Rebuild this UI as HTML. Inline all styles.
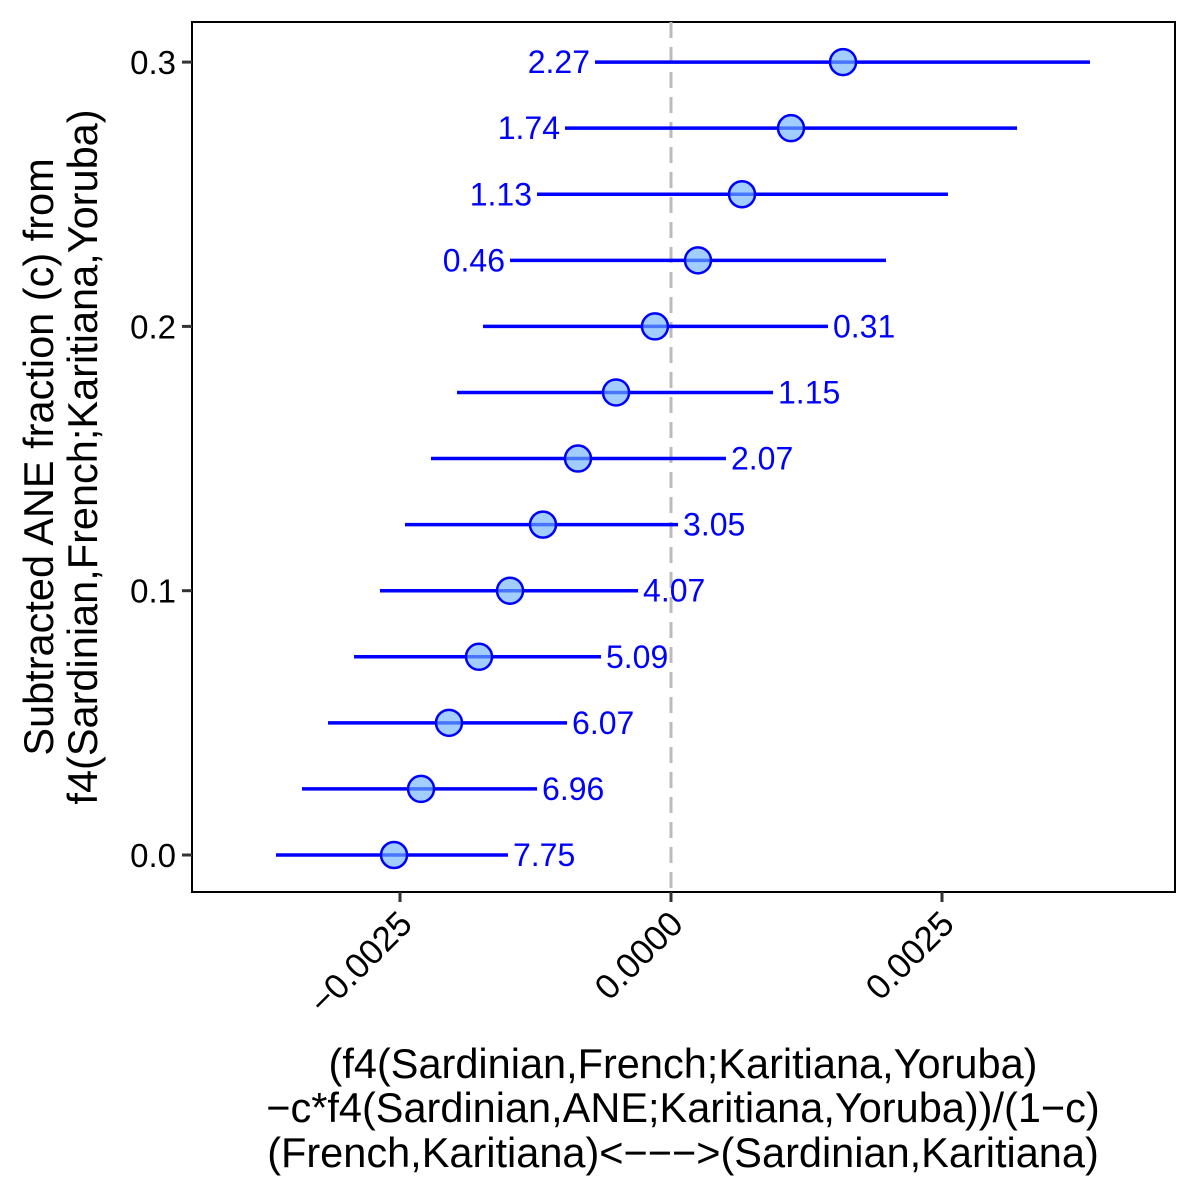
<!DOCTYPE html>
<html><head><meta charset="utf-8"><style>
html,body{margin:0;padding:0;background:#fff;}
svg{display:block;font-family:"Liberation Sans",Arial,sans-serif;}
</style></head><body>
<svg id="chart" width="1200" height="1200" viewBox="0 0 1200 1200" xmlns="http://www.w3.org/2000/svg"></svg>
<script>
const fractions=[0,0.025,0.05,0.075,0.1,0.125,0.15,0.175,0.2,0.225,0.25,0.275,0.3];
const estimates=[-0.002555,-0.002306,-0.002048,-0.001771,-0.001485,-0.001181,-0.000858,-0.000507,-0.000148,0.000249,0.000655,0.001107,0.001587];
const lowers=[-0.003644,-0.003404,-0.003164,-0.002924,-0.002685,-0.002454,-0.002214,-0.001974,-0.001734,-0.001485,-0.001236,-0.000978,-0.000701];
const uppers=[-0.001504,-0.001236,-0.000959,-0.000646,-0.000304,0.000065,0.000507,0.000941,0.001448,0.001983,0.002555,0.003192,0.003865];
const zlabels=["7.75","6.96","6.07","5.09","4.07","3.05","2.07","1.15","0.31","0.46","1.13","1.74","2.27"];
const xticks=[-0.0025,0,0.0025];
const xtickLabels=["\u22120.0025","0.0000","0.0025"];
const yticks=[0,0.1,0.2,0.3];
const ytickLabels=["0.0","0.1","0.2","0.3"];

const svg=document.getElementById('chart');
const NS='http://www.w3.org/2000/svg';
const L=192,R=1175,T=22,B=892;
const X=v=>671+v*108400;
const Y=v=>855-v*2643;
function mk(tag,attrs,parent){const e=document.createElementNS(NS,tag);for(const k in attrs)e.setAttribute(k,attrs[k]);(parent||svg).appendChild(e);return e;}

const panel=mk('rect',{x:L,y:T,width:R-L,height:B-T,fill:'#fff',stroke:'#000','stroke-width':2});



const zero=mk('line',{x1:X(0),x2:X(0),y1:T,y2:B,stroke:'#bbb','stroke-width':3,'stroke-dasharray':'16,9'});



fractions.forEach((c,i)=>{
  const g=mk('g',{});
  
  
  const y=Y(c);
  const ln=mk('line',{x1:X(lowers[i]),x2:X(uppers[i]),y1:y,y2:y,stroke:'#0000ff','stroke-width':3.5},g);
  
  
  const pt=mk('circle',{cx:X(estimates[i]),cy:y,r:13,fill:'rgba(110,180,255,0.65)',stroke:'#0000ff','stroke-width':2.5},g);
  
  
  const pos=estimates[i]>0;
  const t=mk('text',{x:pos?X(lowers[i])-5:X(uppers[i])+5,y:y+11,'font-size':32,fill:'#0000ff','text-anchor':pos?'end':'start'},g);
  t.textContent=zlabels[i];
  
  
});

xticks.forEach((v,i)=>{
  const x=X(v);
  const tk=mk('line',{x1:x,x2:x,y1:B,y2:B+10,stroke:'#333','stroke-width':3});
  
  
  const ax=x+14,ay=B+34;
  const t=mk('text',{x:ax,y:ay,'font-size':35,fill:'#000','text-anchor':'end',transform:`rotate(-45 ${ax} ${ay})`});
  t.textContent=xtickLabels[i];
  
  
});
yticks.forEach((v,i)=>{
  const y=Y(v);
  const tk=mk('line',{x1:L-10,x2:L,y1:y,y2:y,stroke:'#333','stroke-width':3});
  
  
  const t=mk('text',{x:L-16,y:y+12,'font-size':33,fill:'#000','text-anchor':'end'});
  t.textContent=ytickLabels[i];
  
  
});

const xt=mk('text',{x:683,'font-size':41.5,fill:'#000','text-anchor':'middle'});


[["(f4(Sardinian,French;Karitiana,Yoruba)",1078],["\u2212c*f4(Sardinian,ANE;Karitiana,Yoruba))/(1\u2212c)",1122],["(French,Karitiana)<\u2212\u2212\u2212>(Sardinian,Karitiana)",1167]].forEach(([s,y])=>{
  const ts=mk('tspan',{x:683,y:y},xt);ts.textContent=s;
});
const yt=mk('text',{'font-size':41.5,fill:'#000','text-anchor':'middle',transform:'rotate(-90) translate(-457 0)'});


[["Subtracted ANE fraction (c) from",53],["f4(Sardinian,French;Karitiana,Yoruba)",97]].forEach(([s,y])=>{
  const ts=mk('tspan',{x:0,y:y},yt);ts.textContent=s;
});
</script>
</body></html>
